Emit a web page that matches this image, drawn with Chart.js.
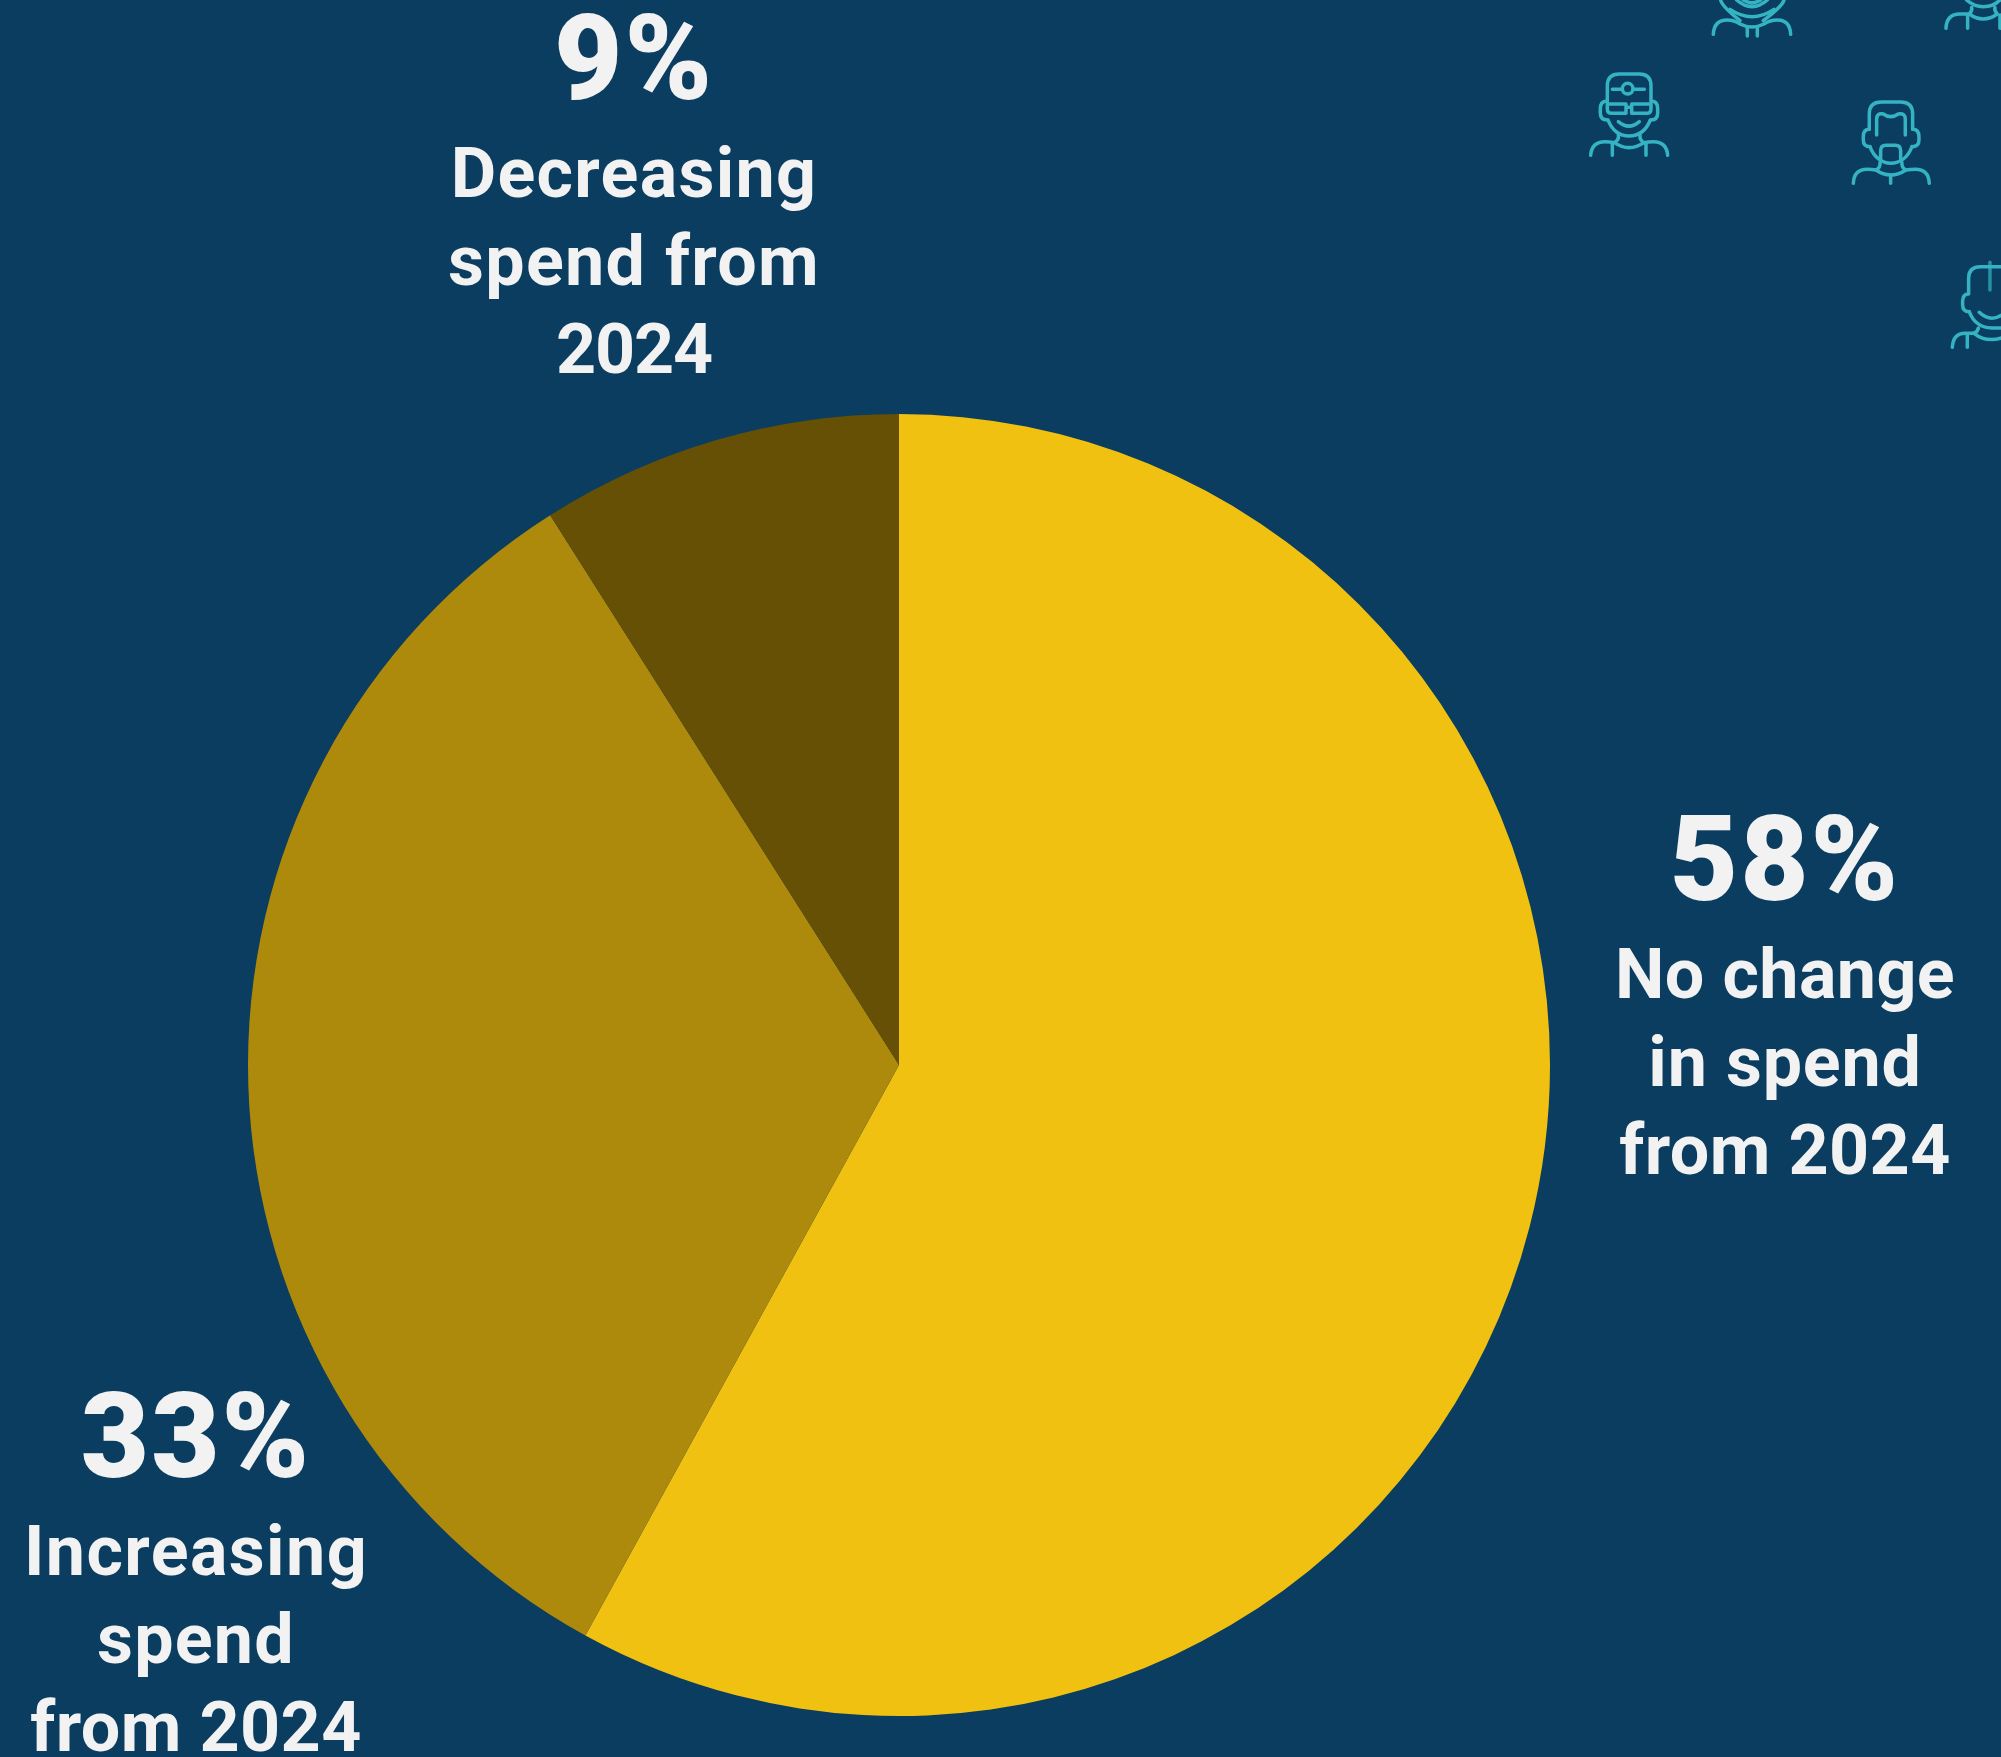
<!DOCTYPE html>
<html>
<head>
<meta charset="utf-8">
<title>Change in spend from 2024</title>
<script src="https://cdn.jsdelivr.net/npm/chart.js@4/dist/chart.umd.min.js"></script>
<style>
  html, body { margin: 0; padding: 0; background: #0a3d5f; overflow: hidden; }
  #stage { position: relative; width: 2001px; height: 1757px; }
  canvas { position: absolute; left: 0; top: 0; }
  svg { position: absolute; left: 0; top: 0; }
</style>
</head>
<body>
<div id="stage">
  <canvas id="pie" width="2001" height="1757"></canvas>
  <!-- Decorative outline portraits in the top right corner -->
  <svg width="2001" height="1757" viewBox="0 0 2001 1757" fill="none" stroke="#35b3c3" stroke-linecap="round" stroke-linejoin="round">
    <g transform="translate(1550 0) scale(0.3333)" stroke-width="10.5">
      <!-- headlamp figure -->
      <path d="M172 305V258Q172 222 208 222H268Q303 222 303 258V305"/>
      <path d="M187 268H216M250 268H283"/><circle cx="233" cy="266" r="16"/>
      <path d="M172 312H228V340H186Q172 340 172 326ZM303 312H245V340H289Q303 340 303 326ZM228 322H245"/>
      <path d="M170 304Q151 304 151 326V340Q151 360 172 360M305 304Q323 304 323 326V340Q323 360 303 360"/>
      <path d="M174 360C186 392 210 408 237 408C264 408 288 392 301 360"/>
      <path d="M205 365Q237 392 268 365"/>
      <path d="M205 405Q208 420 193 428Q237 458 282 428Q268 420 270 405"/>
      <path d="M122 466Q125 425 165 425Q180 425 193 428M353 466Q350 425 310 425Q295 425 282 428"/>
      <path d="M187 430V466M288 430V466"/>
      <!-- bearded figure -->
      <path d="M958 388V342Q958 306 994 306H1052Q1088 306 1088 342V388"/>
      <path d="M980 405V358Q980 338 1000 342Q1022 358 1045 342Q1066 338 1066 358V405"/>
      <path d="M958 388Q940 388 940 410V420Q940 440 960 440M1088 388Q1107 388 1107 410V420Q1107 440 1086 440"/>
      <path d="M960 440C972 472 996 490 1022 490C1050 490 1074 472 1086 440"/>
      <path d="M992 478V452Q992 436 1008 436H1036Q1052 436 1052 452V478"/>
      <path d="M990 488Q992 502 978 510Q1022 540 1068 510Q1054 502 1056 488"/>
      <path d="M910 550Q912 508 952 508Q965 508 978 510M1138 550Q1136 508 1096 508Q1082 508 1068 510"/>
      <path d="M1022 525V550"/>
      <!-- figure cut off by the top edge -->
      <path d="M512 0Q515 18 570 62M702 0Q698 18 640 62"/>
      <path d="M560 0Q606 40 652 0M580 0Q606 16 632 0"/>
      <path d="M540 28Q606 72 672 28"/>
      <path d="M490 103Q492 60 532 60Q552 60 570 72Q606 90 642 72Q660 60 682 60Q720 60 722 103"/>
      <path d="M592 82V108M622 82V108"/>
      <!-- second figure cut off by the top edge -->
      <path d="M1250 0Q1272 20 1300 20Q1330 20 1350 0"/>
      <path d="M1265 22Q1268 32 1258 42Q1300 72 1342 42Q1332 32 1335 22"/>
      <path d="M1188 85Q1190 42 1230 42Q1245 42 1258 42"/>
      <path d="M1253 45V85M1350 45V85"/>
      <!-- figure cut off by the right edge -->
      <path d="M1256 880V835Q1256 800 1292 800H1360"/>
      <path d="M1320 787V870" stroke-opacity="0.7"/>
      <path d="M1256 882Q1238 882 1238 904V914Q1238 935 1258 935"/>
      <path d="M1258 935C1270 968 1296 984 1325 984H1360"/>
      <path d="M1288 937Q1320 968 1356 945"/>
      <path d="M1285 984Q1284 995 1272 1000Q1310 1030 1360 1012"/>
      <path d="M1207 1042Q1210 1000 1245 1000Q1260 1000 1272 1000"/>
      <path d="M1252 1004V1042"/>
    </g>
  </svg>
</div>
<script>
// Share of respondents by change in spend, clockwise from twelve o'clock
const categories = ['No change in spend from 2024', 'Increasing spend from 2024', 'Decreasing spend from 2024'];
const shares = [58, 33, 9];
const sliceColors = ['#f0c111', '#ae8a0c', '#655006'];

const percentLabels = ['58%', '33%', '9%'];
const captionLines = [
  ['No change', 'in spend', 'from 2024'],
  ['Increasing', 'spend', 'from 2024'],
  ['Decreasing', 'spend from', '2024']
];
// Tracking of each caption line, in pixels
const captionTracking = [
  [0.4, 0.8, 0.4],
  [1.4, 1.2, 0.4],
  [1.3, 1.3, -1.2]
];
// Centre x and percent baseline of each text block
const labelCentres = [1785, 196, 634];
const labelBaselines = [900, 1477, 99];

const TEXT_COLOR = '#f2f2f2';
const LINE_STEP = 88;
const CAPTION_OFFSET = 98;

// Writes the percent and caption block beside each slice
const sliceText = {
  id: 'sliceText',
  afterDraw(chart) {
    const ctx = chart.ctx;
    ctx.save();
    ctx.fillStyle = TEXT_COLOR;
    ctx.textAlign = 'center';
    ctx.textBaseline = 'alphabetic';
    percentLabels.forEach((pct, i) => {
      const x = labelCentres[i];
      const y = labelBaselines[i];
      ctx.font = '900 118px Roboto';
      ctx.letterSpacing = '2px';
      ctx.fillText(pct, x, y);
      ctx.font = '700 70px Roboto';
      captionLines[i].forEach((line, j) => {
        ctx.letterSpacing = captionTracking[i][j] + 'px';
        ctx.fillText(line, x, y + CAPTION_OFFSET + j * LINE_STEP);
      });
    });
    ctx.restore();
  }
};

new Chart(document.getElementById('pie'), {
  type: 'pie',
  data: {
    labels: categories,
    datasets: [{
      data: shares,
      backgroundColor: sliceColors,
      borderWidth: 0
    }]
  },
  options: {
    responsive: false,
    animation: false,
    layout: { padding: { left: 247.5, right: 450.5, top: 414, bottom: 41 } },
    plugins: {
      legend: { display: false },
      tooltip: { enabled: false },
      title: { display: false }
    }
  },
  plugins: [sliceText]
});
</script>
</body>
</html>
